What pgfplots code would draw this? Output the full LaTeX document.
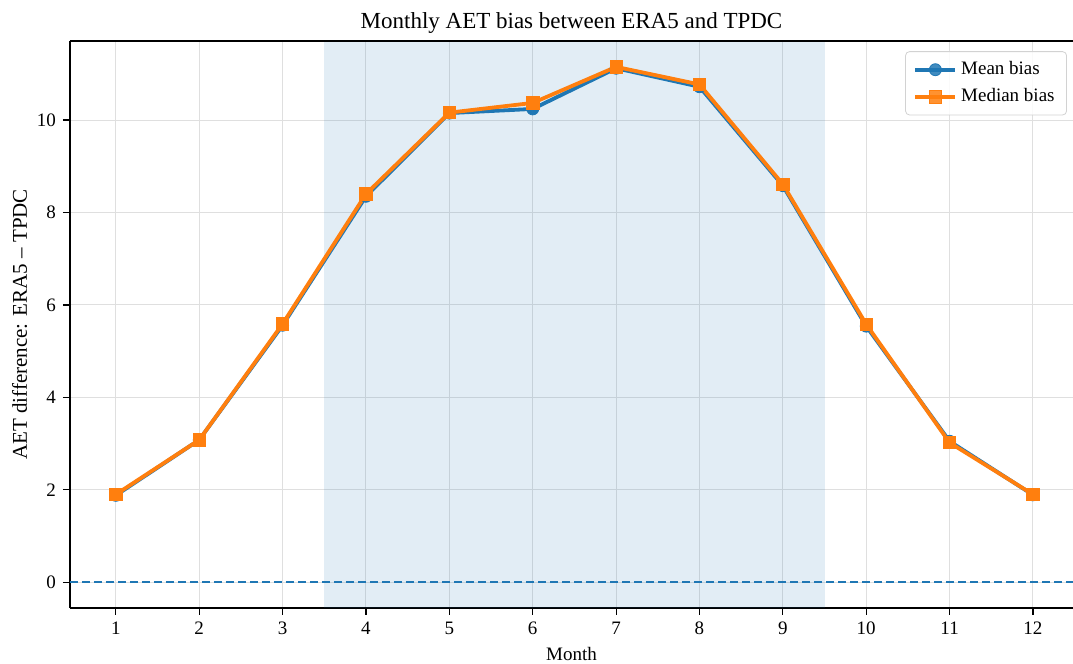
\documentclass[border=0pt]{standalone}
\usepackage{fontspec}
\setmainfont{Liberation Serif}
\usepackage{pgfplots}
\pgfplotsset{compat=1.18}

\definecolor{tabblue}{HTML}{1F77B4}
\definecolor{taborange}{HTML}{FF7F0E}

\begin{document}
\begin{tikzpicture}
\begin{axis}[
  scale only axis,
  width=501.5pt, height=283.5pt,
  xmin=0.45, xmax=12.48,
  ymin=-0.557, ymax=11.71,
  xtick={1,...,12}, ytick={0,2,4,6,8,10},
  axis lines=left,
  axis line style={-, line width=0.7pt, black},
  tick align=outside, tick pos=left,
  major tick length=3.5pt,
  tick style={black, line width=0.6pt},
  grid=major,
  grid style={gray!25, line width=0.5pt},
  /pgf/number format/assume math mode=true,
  ticklabel style={font=\fontsize{9.5}{11}\selectfont},
  xlabel={Month}, ylabel={AET difference: ERA5 -- TPDC},
  xlabel style={font=\fontsize{9.5}{11}\selectfont, yshift=0.5pt},
  ylabel style={font=\fontsize{10.5}{12}\selectfont, yshift=-2pt},
  title={Monthly AET bias between ERA5 and TPDC},
  title style={font=\fontsize{11.5}{13}\selectfont, yshift=-6pt},
  legend style={at={(0.994,0.982)}, anchor=north east, draw=gray!35, rounded corners=2pt,
    fill=white, fill opacity=0.85, text opacity=1,
    font=\fontsize{9.5}{11}\selectfont, row sep=1.5pt, inner xsep=4pt, inner ysep=3pt},
  legend cell align=left,
  legend image code/.code={
    \draw[mark repeat=2,mark phase=2] plot coordinates {(0cm,0cm) (0.35cm,0cm) (0.7cm,0cm)};},
]
% summer shading
\addplot [forget plot, draw=none, fill=tabblue, fill opacity=0.13]
  coordinates {(3.5,-0.557) (9.5,-0.557) (9.5,11.71) (3.5,11.71)} -- cycle;
% zero line
\addplot [forget plot, tabblue, dash pattern=on 4pt off 2pt, line width=0.8pt]
  coordinates {(0.45,0) (12.48,0)};

\addplot [tabblue, line width=1.9pt, mark=*, mark size=3pt, mark options={solid, line width=0.4pt}]
  coordinates {
  (1,1.88) (2,3.08) (3,5.56) (4,8.35) (5,10.15) (6,10.24)
  (7,11.12) (8,10.72) (9,8.58) (10,5.54) (11,3.05) (12,1.89)};
\addlegendentry{Mean bias}

\addplot [taborange, line width=1.9pt, mark=square*, mark size=3.1pt, mark options={solid, line width=0.4pt}]
  coordinates {
  (1,1.90) (2,3.08) (3,5.59) (4,8.40) (5,10.16) (6,10.37)
  (7,11.15) (8,10.77) (9,8.61) (10,5.58) (11,3.02) (12,1.90)};
\addlegendentry{Median bias}

\coordinate (sw) at (rel axis cs:0,0);
\coordinate (ne) at (rel axis cs:1,1);
\draw[black, line width=0.7pt] (rel axis cs:0,1) -- (rel axis cs:1,1);
\end{axis}
\pgfresetboundingbox
\path ([shift={(-35pt,-28pt)}]sw) rectangle ([shift={(0pt,20.5pt)}]ne);
\end{tikzpicture}
\end{document}
